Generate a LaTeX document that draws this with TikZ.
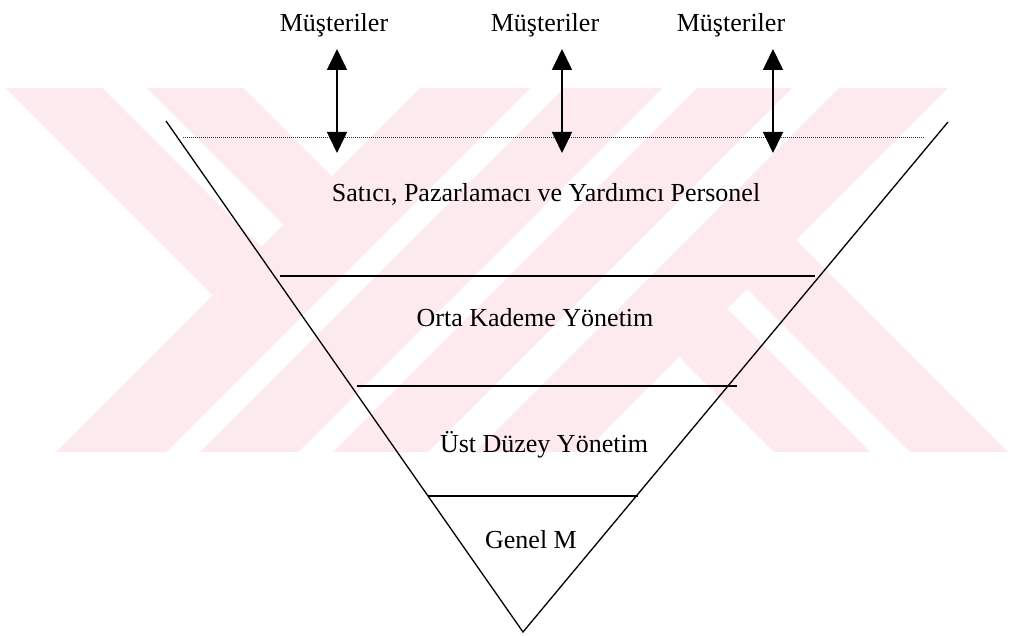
\documentclass[tikz,border=0pt]{standalone}
\usepackage{fontspec}
\setmainfont{Liberation Serif}
\usetikzlibrary{arrows.meta}
\definecolor{wm}{RGB}{253,234,238}
\begin{document}
\begin{tikzpicture}[x=1pt,y=-1pt,
  lbl/.style={font=\fontsize{26}{30}\selectfont, inner sep=0pt, anchor=base},
  edgeline/.style={line width=1.3pt, black},
  levelline/.style={line width=1.5pt, black},
  dotline/.style={line width=1pt, dash pattern=on 0.8pt off 1.2pt, black!80},
  dblarrow/.style={line width=1.6pt, {Triangle[length=21pt,width=20pt]}-{Triangle[length=21pt,width=20pt]}},
  wmark/.style={fill=wm, draw=none}]
\useasboundingbox (0,0) rectangle (1010,636);
\fill[white] (0,0) rectangle (1010,636);
% watermark stripes
\fill[wmark] (420,88) -- (530,88) -- (166,452) -- (56,452) -- cycle;
\fill[wmark] (564,88) -- (662,88) -- (298,452) -- (200,452) -- cycle;
\fill[wmark] (697,88) -- (792,88) -- (428,452) -- (333,452) -- cycle;
\fill[wmark] (839,88) -- (948,88) -- (584,452) -- (475,452) -- cycle;
\fill[wmark] (5,88) -- (102,88) -- (316,302) -- (267.5,350.5) -- cycle;
\fill[wmark] (147,88) -- (243,88) -- (386.5,231.5) -- (338.5,279.5) -- cycle;
\fill[wmark] (624.5,302.5) -- (672.5,254.5) -- (870,452) -- (774,452) -- cycle;
\fill[wmark] (692.5,234.5) -- (741.5,185.5) -- (1008,452) -- (910,452) -- cycle;
% pyramid
\coordinate (TL) at (166,121);
\coordinate (TR) at (948,122);
\coordinate (AP) at (523,632);
\draw[edgeline] (TL) -- (AP) -- (TR);
\coordinate (D1) at (183,138);
\coordinate (D2) at (925,138);
\draw[dotline] (D1) -- (D2);
\coordinate (A1a) at (280,276);
\coordinate (A1b) at (815,276);
\coordinate (A2a) at (357,386);
\coordinate (A2b) at (737,386);
\coordinate (A3a) at (428,496);
\coordinate (A3b) at (638,496);
\draw[levelline] (A1a) -- (A1b);
\draw[levelline] (A2a) -- (A2b);
\draw[levelline] (A3a) -- (A3b);
% customers
\node[lbl] (m1) at (334,32) {Müşteriler};
\node[lbl] (m2) at (545,32) {Müşteriler};
\node[lbl] (m3) at (731,32) {Müşteriler};
\coordinate (u1) at (337,49);
\coordinate (v1) at (337,153);
\coordinate (u2) at (562,49);
\coordinate (v2) at (562,153);
\coordinate (u3) at (773,49);
\coordinate (v3) at (773,153);
\draw[dblarrow] (u1) -- (v1);
\draw[dblarrow] (u2) -- (v2);
\draw[dblarrow] (u3) -- (v3);
% levels
\node[lbl] (sat) at (546,202) {Satıcı, Pazarlamacı ve Yardımcı Personel};
\node[lbl] (orta) at (535,327) {Orta Kademe Yönetim};
\node[lbl] (ust) at (544,452) {Üst Düzey Yönetim};
\node[lbl] (gen) at (531,548) {Genel M};
\end{tikzpicture}
\end{document}
